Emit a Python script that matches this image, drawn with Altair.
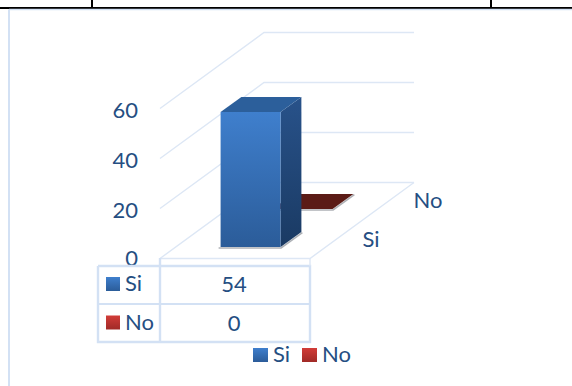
import altair as alt
import pandas as pd

# Survey answers and axis labels
CATEGORIES = ["Si", "No"]
VALUES = [54, 0]
AXIS_TICKS = [0, 20, 40, 60]

INK = "#254e82"
GRID = "#dde7f5"
BORDER = "#d3e1f4"
FONT = "Lato"
FONT_SIZE = 22

W, H = 572, 386
X = alt.Scale(domain=[0, W], range=[0, W])
Y = alt.Scale(domain=[0, H], range=[0, H])


def project(u, d, v=0):
    """Oblique projection: u across the floor (0-1), d series depth (0-2), v value."""
    return 160 + 150 * u + 52 * d, 258.5 - 38 * d - 2.5 * v


def grad(top, bottom):
    return alt.Gradient(
        gradient="linear",
        stops=[alt.GradientStop(color=top, offset=0), alt.GradientStop(color=bottom, offset=1)],
        x1=0, x2=0, y1=0, y2=1,
    )


def poly_line(points, color, width, opacity=1.0):
    df = pd.DataFrame([{"x": p[0], "y": p[1], "i": i} for i, p in enumerate(points)])
    return (
        alt.Chart(df)
        .mark_line(color=color, strokeWidth=width, opacity=opacity, clip=False)
        .encode(
            x=alt.X("x:Q", scale=X, axis=None),
            y=alt.Y("y:Q", scale=Y, axis=None),
            order="i:O",
        )
    )


def band_h(front_a, front_b, back_a, back_b, fill):
    """Face with horizontal front and back edges (top of a bar)."""
    df = pd.DataFrame(
        [
            {"y": front_a[1], "x": front_a[0], "x2": front_b[0]},
            {"y": back_a[1], "x": back_a[0], "x2": back_b[0]},
        ]
    )
    return (
        alt.Chart(df)
        .mark_area(orient="horizontal", fill=fill, stroke=None)
        .encode(
            y=alt.Y("y:Q", scale=Y, axis=None),
            x=alt.X("x:Q", scale=X, axis=None, stack=None),
            x2="x2:Q",
        )
    )


def band_v(low_a, high_a, low_b, high_b, fill):
    """Face with vertical edges (side of a bar)."""
    df = pd.DataFrame(
        [
            {"x": low_a[0], "y": low_a[1], "y2": high_a[1]},
            {"x": low_b[0], "y": low_b[1], "y2": high_b[1]},
        ]
    )
    return (
        alt.Chart(df)
        .mark_area(orient="vertical", fill=fill, stroke=None)
        .encode(
            x=alt.X("x:Q", scale=X, axis=None),
            y=alt.Y("y:Q", scale=Y, axis=None, stack=None),
            y2="y2:Q",
        )
    )


def box(x0, y0, x1, y1, fill):
    df = pd.DataFrame([{"x": x0, "x2": x1, "y": y0, "y2": y1}])
    return (
        alt.Chart(df)
        .mark_rect(fill=fill, stroke=None)
        .encode(
            x=alt.X("x:Q", scale=X, axis=None),
            x2="x2:Q",
            y=alt.Y("y:Q", scale=Y, axis=None),
            y2="y2:Q",
        )
    )


def label(x, y, text, align="center"):
    df = pd.DataFrame([{"x": x, "y": y, "t": str(text)}])
    return (
        alt.Chart(df)
        .mark_text(font=FONT, fontSize=FONT_SIZE, color=INK, align=align, baseline="middle")
        .encode(
            x=alt.X("x:Q", scale=X, axis=None),
            y=alt.Y("y:Q", scale=Y, axis=None),
            text="t:N",
        )
    )


layers = []

# Page rules above the chart and the chart frame
layers.append(poly_line([(0, 8), (W, 8)], "#000000", 2))
layers.append(poly_line([(92, 0), (92, 8)], "#000000", 2))
layers.append(poly_line([(491, 0), (491, 8)], "#000000", 2))
layers.append(poly_line([(9, 9.5), (W, 9.5)], BORDER, 1.5))
layers.append(poly_line([(9, 9.5), (9, H)], BORDER, 2))

# Wall gridlines, running along the left wall and then the back wall
for t in AXIS_TICKS:
    layers.append(poly_line([project(0, 0, t), project(0, 2, t), project(1, 2, t)], GRID, 1.4))

# Floor outline
layers.append(poly_line([project(0, 0), project(1, 0), project(1, 2)], GRID, 1.4))

# Bars, back series first
FACES = [
    {"front": grad("#3f7fcd", "#2b5c99"), "side": grad("#28528a", "#1a3a63"), "top": "#2c5f9b"},
    {"front": grad("#c9352f", "#8c2320"), "side": grad("#7a1f1b", "#541511"), "top": "#5b1b16"},
]
for i in reversed(range(len(VALUES))):
    v = VALUES[i]
    d0, d1 = i + 0.3, i + 0.7
    u0, u1 = 0.3, 0.7
    fl0, fr0 = project(u0, d0), project(u1, d0)
    bl0, br0 = project(u0, d1), project(u1, d1)
    flv, frv = project(u0, d0, v), project(u1, d0, v)
    blv, brv = project(u0, d1, v), project(u1, d1, v)
    # soft contact shadow on the floor
    layers.append(
        poly_line(
            [(fl0[0] - 2, fl0[1] + 0.8), (fr0[0] + 0.5, fr0[1] + 0.8), (br0[0] + 1, br0[1] + 0.8)],
            "#8a8f96", 1.5, 0.7,
        )
    )
    if v > 0:
        layers.append(band_v(fr0, frv, br0, brv, FACES[i]["side"]))
        layers.append(box(flv[0], flv[1], fr0[0], fr0[1], FACES[i]["front"]))
    layers.append(band_h(flv, frv, blv, brv, FACES[i]["top"]))

# Value axis labels; the lowest one sits just above the table
for t in AXIS_TICKS:
    layers.append(label(138, project(0, 0, t)[1] + (2.5 if t else 0), t, "right"))

# Depth axis labels
layers.append(label(371, 240, CATEGORIES[0]))
layers.append(label(428, 201, CATEGORIES[1]))

# Data table
layers.append(box(98, 266, 310, 342, "#ffffff"))
layers.append(poly_line([(98, 266), (310, 266), (310, 342), (98, 342), (98, 266)], BORDER, 2.4))
layers.append(poly_line([(98, 304), (310, 304)], BORDER, 2.2))
layers.append(poly_line([(160, 258), (160, 342)], BORDER, 2.4))
layers.append(poly_line([(310, 258), (310, 266)], GRID, 1.4))

SWATCHES = [grad("#3f7fcd", "#2b5c99"), grad("#d23c38", "#a02a27")]
for i, (name, value) in enumerate(zip(CATEGORIES, VALUES)):
    cy = 284 + 38.5 * i
    layers.append(box(106, cy - 7, 120, cy + 7, SWATCHES[i]))
    layers.append(label(125, cy, name, "left"))
    layers.append(label(234, cy + 1, value))

# Legend below the table
for (name, sx), sw in zip(zip(CATEGORIES, [253, 302]), SWATCHES):
    layers.append(box(sx, 348, sx + 15, 362, sw))
    layers.append(label(sx + 20, 355, name, "left"))

chart = (
    alt.layer(*layers)
    .properties(width=W, height=H, padding=0, autosize=alt.AutoSizeParams(type="none"))
    .configure_view(stroke=None)
)

chart.save("out.html", embed_options={"renderer": "svg", "actions": False})
